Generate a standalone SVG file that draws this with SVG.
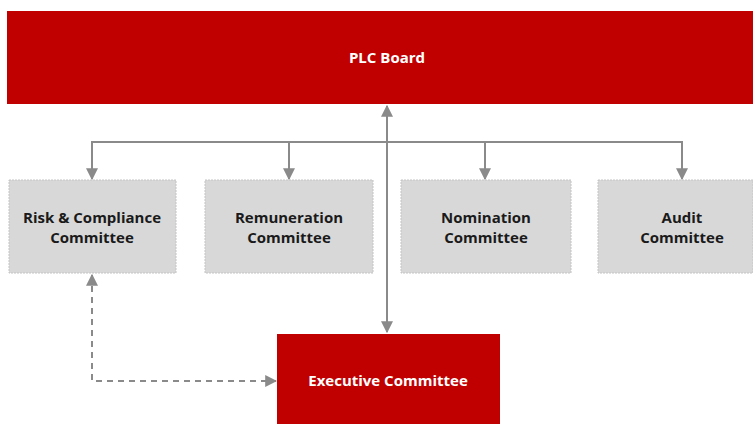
<svg xmlns="http://www.w3.org/2000/svg" width="753" height="424" viewBox="0 0 753 424">
<style>
.red{fill:#c00000}
.grey{fill:#d8d8d8;stroke:#c4c4c4;stroke-width:1;stroke-dasharray:2 1}
.tw{font-family:"Open Sans","Liberation Sans",sans-serif;font-weight:bold;font-size:15px;fill:#ffffff;text-anchor:middle}
.tb{font-family:"Open Sans","Liberation Sans",sans-serif;font-weight:bold;font-size:15px;fill:#1a1a1a;text-anchor:middle}
.ln{fill:none;stroke:#8a8a8a;stroke-width:2}
.dl{fill:none;stroke:#8a8a8a;stroke-width:2;stroke-dasharray:6 5}
</style>
<defs>
<marker id="ah" viewBox="0 0 10 10" refX="9" refY="5" markerWidth="6" markerHeight="6" orient="auto-start-reverse" markerUnits="strokeWidth">
<path d="M0,0 L10,5 L0,10 z" fill="#8a8a8a"/>
</marker>
</defs>
<rect width="753" height="424" fill="#ffffff"/>
<g id="connectors">
<path class="ln" d="M387,106 V332" marker-start="url(#ah)" marker-end="url(#ah)"/>
<path class="ln" d="M92,179 V142 H682 V179" marker-start="url(#ah)" marker-end="url(#ah)"/>
<path class="ln" d="M289,142 V179" marker-end="url(#ah)"/>
<path class="ln" d="M485,142 V179" marker-end="url(#ah)"/>
<path class="dl" d="M92,275 V381 H276" marker-start="url(#ah)" marker-end="url(#ah)"/>
</g>
<g id="plc-board">
<rect class="red" x="7" y="11" width="746" height="93"/>
<text class="tw" x="387" y="63">PLC Board</text>
</g>
<g id="risk-compliance">
<rect class="grey" x="9" y="180" width="167" height="93"/>
<text class="tb" x="92" y="223">Risk &amp; Compliance</text>
<text class="tb" x="92" y="243">Committee</text>
</g>
<g id="remuneration">
<rect class="grey" x="205" y="180" width="168" height="93"/>
<text class="tb" x="289" y="223">Remuneration</text>
<text class="tb" x="289" y="243">Committee</text>
</g>
<g id="nomination">
<rect class="grey" x="401" y="180" width="170" height="93"/>
<text class="tb" x="486" y="223">Nomination</text>
<text class="tb" x="486" y="243">Committee</text>
</g>
<g id="audit">
<rect class="grey" x="598" y="180" width="155" height="93"/>
<text class="tb" x="682" y="223">Audit</text>
<text class="tb" x="682" y="243">Committee</text>
</g>
<g id="executive">
<rect class="red" x="277" y="334" width="223" height="90"/>
<text class="tw" x="388" y="386">Executive Committee</text>
</g>
</svg>
